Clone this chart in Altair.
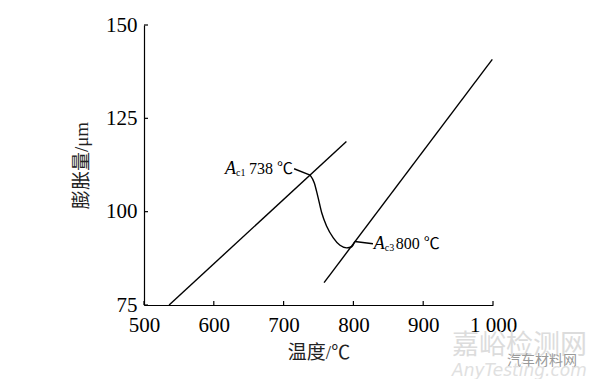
import altair as alt
import pandas as pd

# ---- data ----
x_ticks = [500, 600, 700, 800, 900, 1000]
y_ticks = [75, 100, 125, 150]

line1_temp = [536, 790]
line1_val = [75.0, 118.8]

line2_temp = [758, 999]
line2_val = [81.0, 140.8]

curve_temp = [738, 744, 749, 754.6, 761.7, 771.2, 780.8, 790.4, 797.6, 802]
curve_val = [109.8, 107.7, 104.1, 99.7, 96.1, 93.0, 91.0, 90.3, 90.6, 92.0]

ac1_temp, ac1_val = 738, 109.8
ac3_temp, ac3_val = 802, 92.0
ac1_leader_temp = [715, 738]
ac1_leader_val = [111.5, 109.8]
ac3_leader_temp = [802, 828]
ac3_leader_val = [92.0, 91.4]

SERIF = "Liberation Serif, Noto Sans CJK SC"
W, H = 349, 280

x_scale = alt.Scale(domain=[500, 1000], nice=False, zero=False)
y_scale = alt.Scale(domain=[75, 150], nice=False, zero=False)

rows = []
for name, ts, vs in [("l1", line1_temp, line1_val), ("l2", line2_temp, line2_val),
                     ("curve", curve_temp, curve_val),
                     ("lead1", ac1_leader_temp, ac1_leader_val),
                     ("lead3", ac3_leader_temp, ac3_leader_val)]:
    for i, (t, v) in enumerate(zip(ts, vs)):
        rows.append({"series": name, "temp": t, "val": v, "idx": i})
lines_df = pd.DataFrame(rows)

lines = alt.Chart(lines_df).mark_line(color="black", strokeWidth=1.4, interpolate="monotone").encode(
    x=alt.X("temp:Q", scale=x_scale,
            axis=alt.Axis(values=x_ticks, title="温度/℃", labelExpr="datum.value == 1000 ? '1 000' : datum.label",
                          format="d", labelPadding=9, titlePadding=8, labelFlush=False, labelOverlap=False)),
    y=alt.Y("val:Q", scale=y_scale,
            axis=alt.Axis(values=y_ticks, title="膨胀量/μm", format="d", labelPadding=7, titlePadding=14,
                          labelFlush=False, labelOverlap=False)),
    detail="series:N",
    order="idx:Q",
)

xt = alt.Chart(pd.DataFrame({"temp": x_ticks})).mark_rule(color="black", strokeWidth=1.2).encode(
    x=alt.X("temp:Q", scale=x_scale), y=alt.value(H), y2=alt.value(H - 4))
yt = alt.Chart(pd.DataFrame({"val": y_ticks})).mark_rule(color="black", strokeWidth=1.2).encode(
    y=alt.Y("val:Q", scale=y_scale), x=alt.value(0), x2=alt.value(4))


def label(t, v, text, dx, dy, size, style="normal", color="black", font=SERIF, weight="normal"):
    return alt.Chart(pd.DataFrame({"temp": [t], "val": [v], "text": [text]})).mark_text(
        align="left", baseline="alphabetic", dx=dx, dy=dy, fontSize=size, fontStyle=style,
        font=font, color=color, fontWeight=weight
    ).encode(x=alt.X("temp:Q", scale=x_scale), y=alt.Y("val:Q", scale=y_scale), text="text:N")


texts = [
    label(ac1_temp, ac1_val, "A", -85, -1, 18, "italic"),
    label(ac1_temp, ac1_val, "c1", -74, 1, 10),
    label(ac1_temp, ac1_val, "738 ℃", -61, -1, 16),
    label(ac3_temp, ac3_val, "A", 19, 7, 18, "italic"),
    label(ac3_temp, ac3_val, "c3", 30, 9, 10),
    label(ac3_temp, ac3_val, "800 ℃", 41, 7, 16),
    # watermark
    label(1000, 75, "嘉峪检测网", -41, 49, 27, color="#dcdcdc", font="Noto Sans CJK SC"),
    label(1000, 75, "汽车材料网", 14, 60, 14, color="#9a9a9a", font="Noto Sans CJK SC"),
    label(1000, 75, "AnyTesting.com", -41, 71, 17, "italic", color="#e0e0e0", font="DejaVu Sans"),
]

chart = alt.layer(lines, xt, yt, *texts).properties(
    width=W, height=H,
    autosize=alt.AutoSizeParams(type="none"),
    padding={"left": 136, "top": 17, "right": 99, "bottom": 74},
).configure_view(stroke=None).configure_axis(
    grid=False, ticks=False, tickSize=0, domainColor="black", domainWidth=1.2,
    labelFont="Liberation Serif", labelFontSize=21, labelColor="black",
    titleFont=SERIF, titleFontSize=19, titleFontWeight="normal", titleColor="#222222",
)

chart.save("out.html", embed_options={"renderer": "svg", "actions": False})
